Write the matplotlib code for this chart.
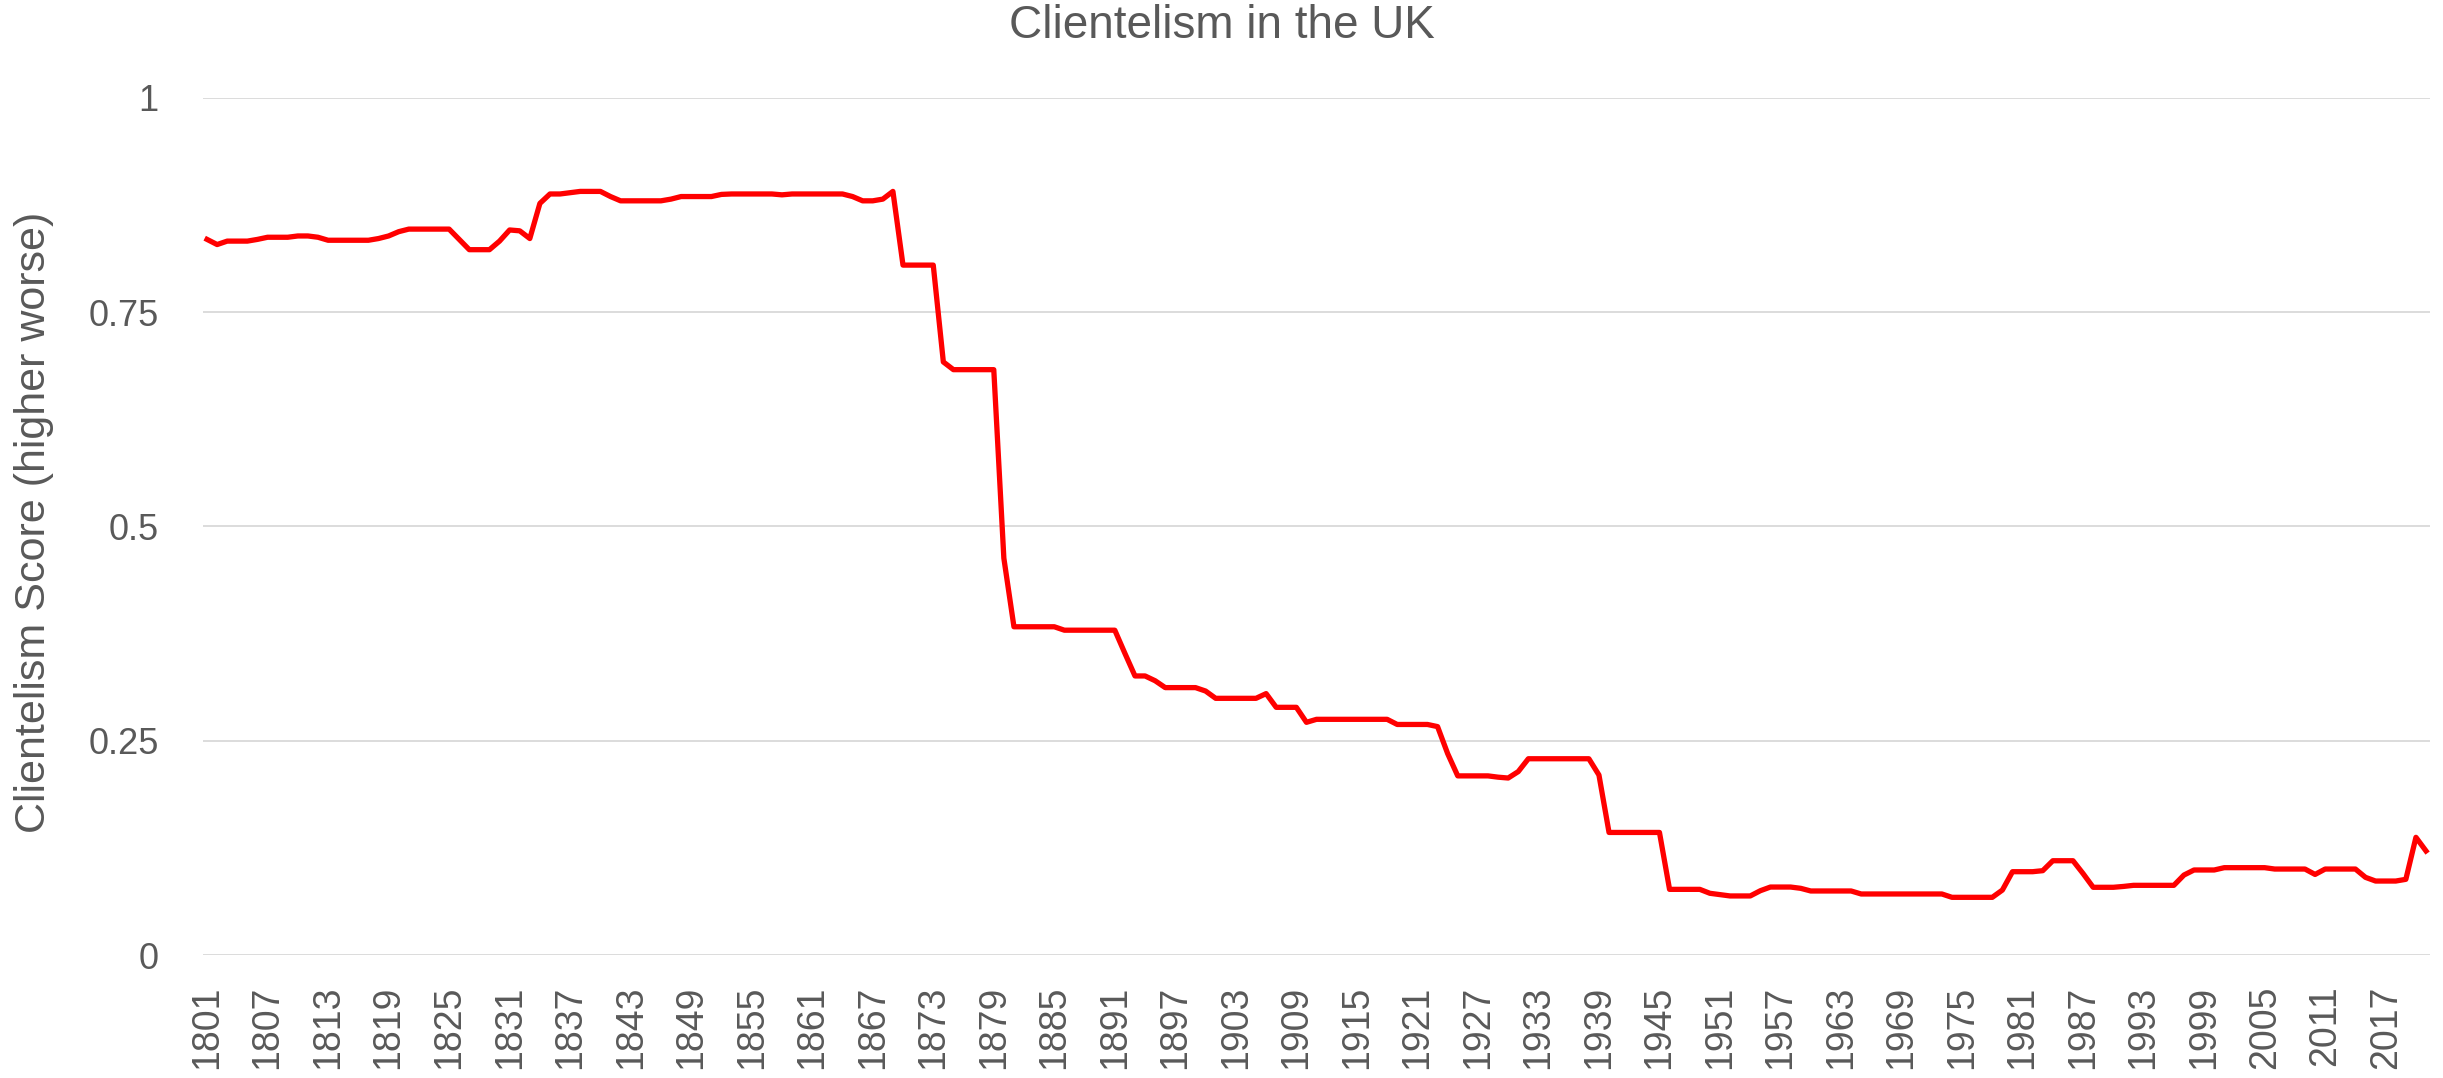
import numpy as np
import matplotlib
matplotlib.use('Agg')
import matplotlib.pyplot as plt

# Clientelism score for the UK, one value per year
anos = np.arange(1801, 2022)

v1801 = [0.835, 0.829, 0.833, 0.833, 0.833, 0.835, 0.8375, 0.8375, 0.8375, 0.839,
         0.839, 0.8375, 0.834, 0.834, 0.834, 0.834, 0.834, 0.836, 0.839, 0.844]
v1821 = [0.847, 0.847, 0.847, 0.847, 0.847, 0.835, 0.823, 0.823, 0.823, 0.833,
         0.846, 0.845, 0.836, 0.877, 0.888, 0.888, 0.8895, 0.891, 0.891, 0.891]
v1841 = [0.885, 0.880, 0.880, 0.880, 0.880, 0.880, 0.882, 0.885, 0.885, 0.885,
         0.885, 0.8875, 0.888, 0.888, 0.888, 0.888, 0.888, 0.887, 0.888, 0.888]
v1861 = [0.888, 0.888, 0.888, 0.888, 0.885, 0.880, 0.880, 0.882, 0.891, 0.805,
         0.805, 0.805, 0.805, 0.692, 0.683, 0.683, 0.683, 0.683, 0.683, 0.463]
v1881 = [0.383, 0.383, 0.383, 0.383, 0.383, 0.379, 0.379, 0.379, 0.379, 0.379,
         0.379, 0.352, 0.3256, 0.3256, 0.320, 0.312, 0.312, 0.312, 0.312, 0.308]
v1901 = [0.2995, 0.2995, 0.2995, 0.2995, 0.2995, 0.305, 0.289, 0.289, 0.289, 0.2715,
         0.275, 0.275, 0.275, 0.275, 0.275, 0.275, 0.275, 0.275, 0.269, 0.269]
v1921 = [0.269, 0.269, 0.2665, 0.235, 0.209, 0.209, 0.209, 0.209, 0.2075, 0.2065,
         0.214, 0.229, 0.229, 0.229, 0.229, 0.229, 0.229, 0.229, 0.21, 0.143]
v1941 = [0.143, 0.143, 0.143, 0.143, 0.143, 0.0766, 0.0766, 0.0766, 0.0766, 0.072,
         0.0705, 0.0689, 0.0689, 0.0689, 0.075, 0.0793, 0.0793, 0.0793, 0.0778, 0.0747]
v1961 = [0.0747, 0.0747, 0.0747, 0.0747, 0.0712, 0.0712, 0.0712, 0.0712, 0.0712, 0.0712,
         0.0712, 0.0712, 0.0712, 0.0673, 0.0673, 0.0673, 0.0673, 0.0673, 0.0758, 0.0972]
v1981 = [0.0972, 0.0972, 0.0984, 0.110, 0.110, 0.110, 0.095, 0.079, 0.079, 0.079,
         0.080, 0.0813, 0.0813, 0.0813, 0.0813, 0.0813, 0.0933, 0.0992, 0.0992, 0.0992]
v2001 = [0.1019, 0.1019, 0.1019, 0.1019, 0.1019, 0.1003, 0.1003, 0.1003, 0.1003, 0.094,
         0.1003, 0.1003, 0.1003, 0.1003, 0.0906, 0.0863, 0.0863, 0.0863, 0.0883, 0.1373,
         0.1214]

valores = v1801 + v1821 + v1841 + v1861 + v1881 + v1901 + v1921 + v1941 + v1961 + v1981 + v2001

yticks = [0, 0.25, 0.5, 0.75, 1]
ylabels = ['0', '0.25', '0.5', '0.75', '1']
xticks = list(range(1801, 2022, 6))

cinza = '#595959'
plt.rcParams['font.family'] = ['Liberation Sans', 'DejaVu Sans']

fig = plt.figure(figsize=(24.43, 10.78), dpi=100)
ax = fig.add_axes([0.0831, 0.1141, 0.9116, 0.795])

ax.plot(anos, valores, color='#FF0000', lw=3.8, solid_joinstyle='round')

ax.set_xlim(1801 - 0.4, 2021 + 0.4)
ax.set_ylim(0, 1)
ax.set_yticks(yticks)
ax.set_yticklabels(ylabels)
ax.set_xticks(xticks)
ax.set_xticklabels([str(a) for a in xticks], rotation=90)
ax.tick_params(axis='y', length=0, pad=32, labelsize=26, labelcolor=cinza)
ax.tick_params(axis='x', length=0, pad=22, labelsize=27, labelcolor=cinza)
ax.grid(axis='y', color='#D9D9D9', lw=1.3)
ax.set_axisbelow(True)
for s in ax.spines.values():
    s.set_visible(False)

fig.text(0.014, 0.515, 'Clientelism Score (higher worse)', rotation=90,
         ha='center', va='center', fontsize=31, color=cinza)
fig.text(0.5, 1 - 26 / 1078, 'Clientelism in the UK', ha='center', va='center',
         fontsize=33, color=cinza)

fig.savefig('out.png', dpi=100)
